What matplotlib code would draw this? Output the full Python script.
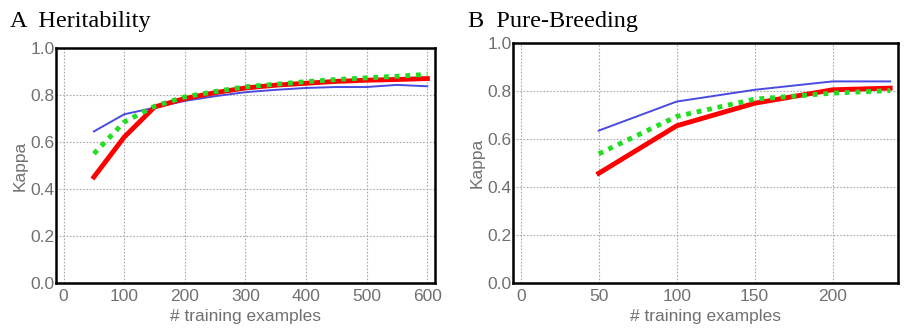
import matplotlib
matplotlib.use("Agg")
import matplotlib.pyplot as plt

# Panel A: Heritability
xA = [50, 100, 150, 200, 250, 300, 350, 400, 450, 500, 550, 600]
redA = [0.451, 0.621, 0.749, 0.785, 0.810, 0.830, 0.842, 0.850, 0.858, 0.863, 0.866, 0.870]
greenA = [0.550, 0.685, 0.752, 0.792, 0.815, 0.835, 0.846, 0.857, 0.866, 0.873, 0.880, 0.888]
blueA = [0.645, 0.718, 0.746, 0.775, 0.795, 0.812, 0.822, 0.830, 0.834, 0.834, 0.843, 0.837]

# Panel B: Pure-Breeding
xB = [50, 100, 150, 200, 237]
redB = [0.457, 0.655, 0.749, 0.805, 0.812]
greenB = [0.538, 0.694, 0.766, 0.791, 0.802]
blueB = [0.635, 0.756, 0.805, 0.840, 0.840]

titles = ["A  Heritability", "B  Pure-Breeding"]
xticksA = [0, 100, 200, 300, 400, 500, 600]
xticksB = [0, 50, 100, 150, 200]
yticks = [0.0, 0.2, 0.4, 0.6, 0.8, 1.0]

plt.rcParams['font.family'] = ['Liberation Sans', 'DejaVu Sans']

fig = plt.figure(figsize=(9.2, 3.3), dpi=100)
W, H = 920, 330
def add_ax(l, t, r, b):
    return fig.add_axes([l / W, 1 - b / H, (r - l) / W, (b - t) / H])

axA = add_ax(56, 48, 435, 283)
axB = add_ax(513, 43, 898, 283)

gray = '#707070'
for ax, x, r, g, b, xt, xl, title, tx in [
        (axA, xA, redA, greenA, blueA, xticksA, (-12.5, 612.5), titles[0], 10),
        (axB, xB, redB, greenB, blueB, xticksB, (-5, 242), titles[1], 468)]:
    ax.plot(x, b, color='#4a4ae0', lw=1.4, zorder=3)
    ax.plot(x, r, color='#ff0000', lw=3.5, zorder=4)
    ax.plot(x, g, color='#22dd22', lw=3.5, ls=(0, (1, 1.2)), zorder=5)
    ax.set_xlim(*xl)
    ax.set_ylim(0, 1)
    ax.set_xticks(xt)
    ax.set_yticks(yticks)
    ax.set_yticklabels([f"{v:.1f}" for v in yticks])
    ax.grid(True, color='#aaaaaa', ls=(0, (1.5, 1.5)), lw=0.8)
    ax.tick_params(length=0, labelsize=12.5, colors=gray)
    ax.tick_params(axis='x', pad=4)
    ax.tick_params(axis='y', pad=1)
    for s in ax.spines.values():
        s.set_linewidth(1.8)
        s.set_color('black')
    ax.set_xlabel('# training examples', fontsize=12.5, color=gray, labelpad=4)
    ax.set_ylabel('Kappa', fontsize=12.5, color=gray, labelpad=2)
    fig.text(tx / W, 1 - 22 / H, title, fontsize=17.5, family='Liberation Serif',
             color='black', va='center', ha='left')

fig.savefig('out.png', dpi=100)
